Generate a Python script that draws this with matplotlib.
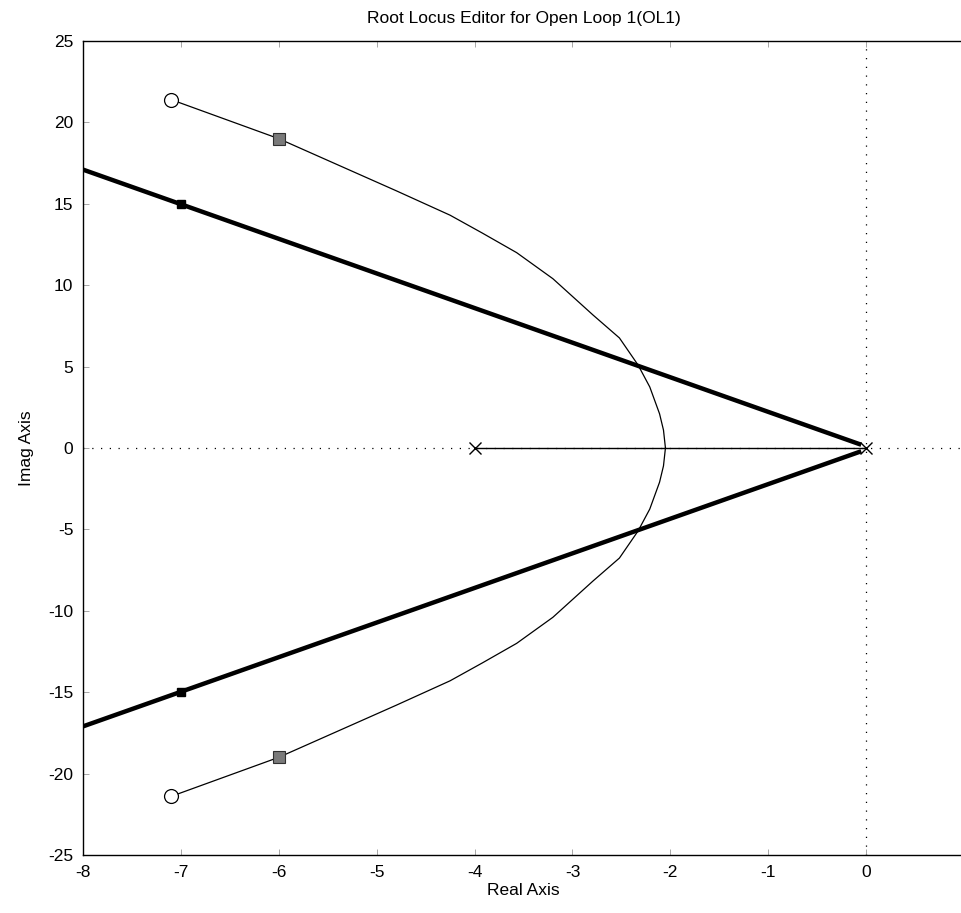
import matplotlib
matplotlib.use("Agg")
import matplotlib.pyplot as plt

plt.rcParams["font.family"] = ["Liberation Sans", "DejaVu Sans"]
plt.rcParams["axes.unicode_minus"] = False

# Lugar das raizes (ramo superior; o inferior e o conjugado)
locus_re = [-7.1, -6.0, -4.8, -4.25, -3.92, -3.57, -3.2, -2.79, -2.52, -2.33, -2.21, -2.11, -2.07, -2.05]
locus_im = [21.4, 19.0, 15.8, 14.3, 13.2, 12.0, 10.4, 8.17, 6.76, 5.1, 3.75, 2.1, 1.1, 0.0]

# Trecho no eixo real entre os polos
real_seg_re = [-4.0, 0.0]

# Polos e zeros de malha aberta
poles_re = [-4.0, 0.0]
poles_im = [0.0, 0.0]
zeros_re = [-7.1, -7.1]
zeros_im = [21.4, -21.4]

# Polos de malha fechada
cl_re = [-6.0, -6.0]
cl_im = [19.0, -19.0]

# Linhas de amortecimento (grossas)
damp_re = [-8.0, -0.05]
damp_im = [17.1, 0.2]
damp_mark_re = [-7.0, -7.0]
damp_mark_im = [15.0, -15.0]

xticks = [-8, -7, -6, -5, -4, -3, -2, -1, 0]
yticks = [-25, -20, -15, -10, -5, 0, 5, 10, 15, 20, 25]

fig = plt.figure(figsize=(9.61, 9.13), dpi=100)
ax = fig.add_axes([83 / 961, 58 / 913, 881 / 961, 814 / 913])

# eixos pontilhados em x=0 e y=0
ax.axhline(0, color="black", lw=0.9, ls=(0, (1, 6)), zorder=1)
ax.axvline(0, color="black", lw=0.9, ls=(0, (1, 6)), zorder=1)

# linhas de amortecimento
ax.plot(damp_re, damp_im, color="black", lw=3.2, solid_capstyle="butt", zorder=3)
ax.plot(damp_re, [-v for v in damp_im], color="black", lw=3.2, solid_capstyle="butt", zorder=3)
ax.plot(damp_mark_re, damp_mark_im, "s", color="black", ms=6, zorder=4)

# lugar das raizes
ax.plot(locus_re, locus_im, color="black", lw=0.9, zorder=2)
ax.plot(locus_re, [-v for v in locus_im], color="black", lw=0.9, zorder=2)
ax.plot(real_seg_re, [0, 0], color="black", lw=1.0, zorder=2)

ax.plot(poles_re, poles_im, "x", color="black", ms=8, mew=1.0, zorder=5)
ax.plot(zeros_re, zeros_im, "o", mfc="white", mec="black", ms=10, mew=0.9, zorder=5)
ax.plot(cl_re, cl_im, "s", mfc="#7a7a7a", mec="#303030", ms=9, mew=0.8, zorder=5)

ax.set_xlim(-8, 1)
ax.set_ylim(-25, 25)
ax.set_xticks(xticks)
ax.set_yticks(yticks)
ax.tick_params(direction="in", length=4, width=0.6, color="#999999",
               labelsize=12.5, pad=7, top=True, right=False)
for s in ax.spines.values():
    s.set_linewidth(1.0)
ax.spines["right"].set_visible(False)

ax.set_title("Root Locus Editor for Open Loop 1(OL1)", fontsize=12.5, pad=13)
ax.set_xlabel("Real Axis", fontsize=12.5, labelpad=2)
ax.set_ylabel("Imag Axis", fontsize=12.5, labelpad=10)

fig.savefig("out.png", dpi=100)
